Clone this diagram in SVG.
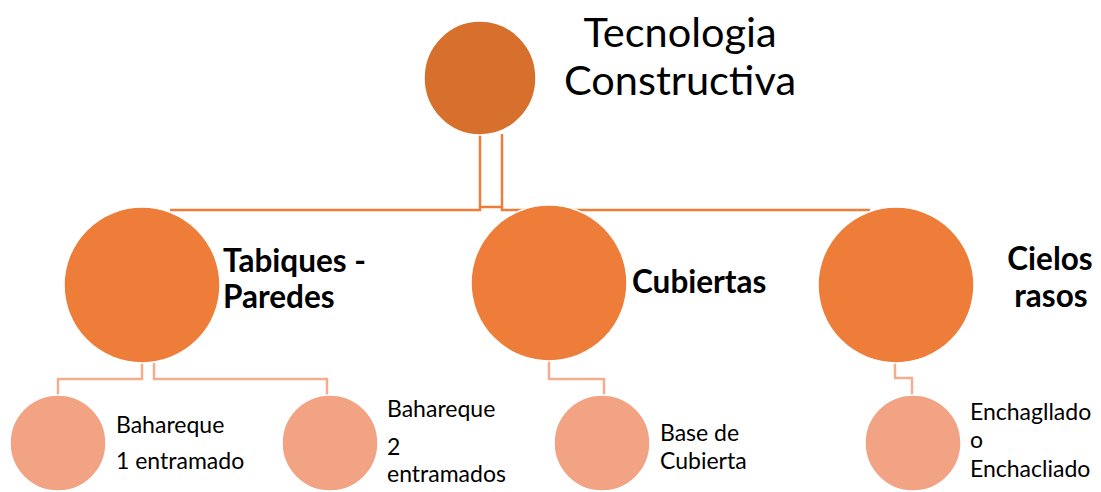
<svg xmlns="http://www.w3.org/2000/svg" width="1101" height="492" viewBox="0 0 1101 492">
<style>
.c0{fill:#D6702C;stroke:#fff;stroke-width:1.5}
.c1{fill:#ED7D38;stroke:#fff;stroke-width:1.5}
.c2{fill:#F2A384;stroke:#fff;stroke-width:1.5}
.l1{fill:none;stroke:#ED7D38;stroke-width:2.5}
.l2{fill:none;stroke:#F4AE8D;stroke-width:2.5}
.t0{font-family:Lato,"Liberation Sans",sans-serif;font-size:41.5px;fill:#000;text-anchor:middle}
.t1{font-family:Lato,"Liberation Sans",sans-serif;font-size:31.5px;font-weight:bold;fill:#000}
.t2{font-family:Lato,"Liberation Sans",sans-serif;font-size:23px;fill:#000}
</style>
<rect width="1101" height="492" fill="#fff"/>
<g id="connectors">
<path class="l1" d="M480,134 V210 H170"/>
<path class="l1" d="M502,134 V210 H870"/>
<path class="l1" d="M480,207 H502"/>
<path class="l2" d="M142,362 V379 H58 V396"/>
<path class="l2" d="M154,362 V379 H327 V396"/>
<path class="l2" d="M549,360 V379 H604 V396"/>
<path class="l2" d="M895,362 V378 H912 V396"/>
</g>
<g id="root">
<ellipse class="c0" cx="480" cy="78" rx="56" ry="57"/>
<text class="t0" x="680" y="47">Tecnologia</text>
<text class="t0" x="680" y="95">Constructiva</text>
</g>
<g id="tabiques">
<circle class="c1" cx="142" cy="285" r="78"/>
<text class="t1" x="223" y="272">Tabiques -</text>
<text class="t1" x="223" y="308">Paredes</text>
</g>
<g id="cubiertas">
<circle class="c1" cx="549" cy="283" r="78"/>
<text class="t1" x="632" y="293">Cubiertas</text>
</g>
<g id="cielos">
<circle class="c1" cx="896" cy="285" r="78"/>
<text class="t1" x="1050" y="270" text-anchor="middle">Cielos</text>
<text class="t1" x="1051" y="307" text-anchor="middle">rasos</text>
</g>
<g id="bahareque1">
<circle class="c2" cx="58" cy="443" r="48"/>
<text class="t2" x="116" y="433">Bahareque</text>
<text class="t2" x="116" y="469">1 entramado</text>
</g>
<g id="bahareque2">
<circle class="c2" cx="330" cy="443" r="48"/>
<text class="t2" x="387" y="417">Bahareque</text>
<text class="t2" x="387" y="455">2</text>
<text class="t2" x="387" y="482">entramados</text>
</g>
<g id="base">
<circle class="c2" cx="602" cy="443" r="48"/>
<text class="t2" x="660" y="441">Base de</text>
<text class="t2" x="660" y="469">Cubierta</text>
</g>
<g id="enchaglado">
<circle class="c2" cx="913" cy="443" r="48"/>
<text class="t2" x="970" y="420">Enchagllado</text>
<text class="t2" x="970" y="448">o</text>
<text class="t2" x="970" y="477">Enchacliado</text>
</g>
</svg>
